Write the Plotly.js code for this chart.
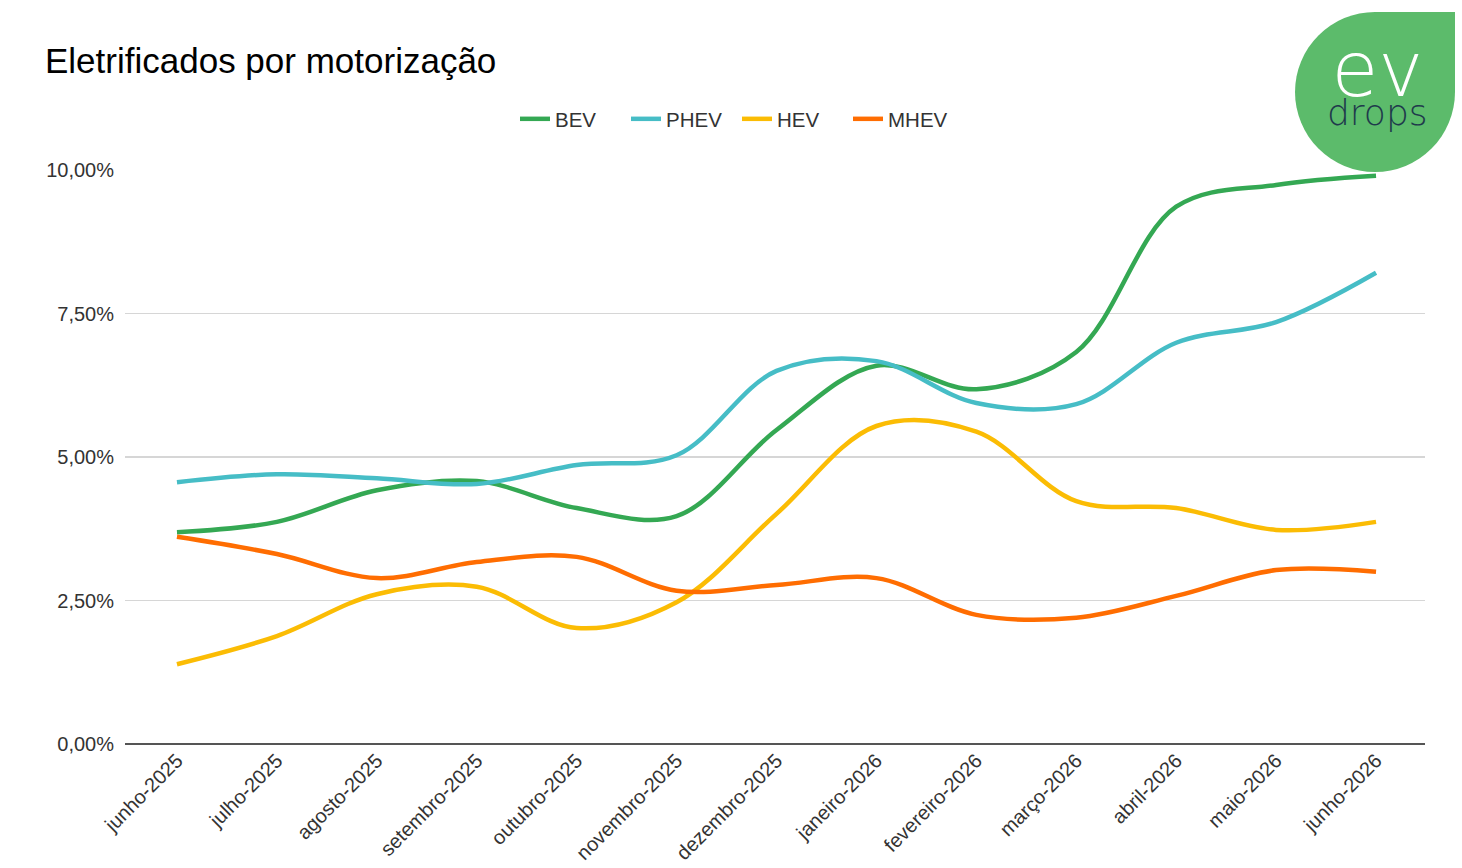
<!DOCTYPE html>
<html>
<head>
<meta charset="utf-8">
<script src="https://cdn.plot.ly/plotly-3.0.1.min.js"></script>
<style>html,body{margin:0;padding:0;background:#fff;}#chart{width:1462px;height:868px;}</style>
</head>
<body>
<div id="chart"></div>
<script>
const months = ["junho-2025","julho-2025","agosto-2025","setembro-2025","outubro-2025","novembro-2025","dezembro-2025","janeiro-2026","fevereiro-2026","março-2026","abril-2026","maio-2026","junho-2026"];
const bev  = [3.69, 3.87, 4.42, 4.58, 4.11, 3.97, 5.47, 6.59, 6.18, 6.83, 9.36, 9.74, 9.90];
const phev = [4.56, 4.70, 4.63, 4.53, 4.86, 5.03, 6.50, 6.67, 5.94, 5.92, 6.99, 7.35, 8.21];
const hev  = [1.39, 1.88, 2.61, 2.74, 2.02, 2.47, 4.01, 5.54, 5.44, 4.23, 4.11, 3.73, 3.87];
const mhev = [3.61, 3.31, 2.89, 3.17, 3.26, 2.67, 2.77, 2.89, 2.25, 2.20, 2.58, 3.03, 3.00];
const yTicks = [0, 2.5, 5, 7.5, 10];
const yTickLabels = ["0,00%", "2,50%", "5,00%", "7,50%", "10,00%"];

const seriesNames = ["BEV","PHEV","HEV","MHEV"];
const seriesData = [bev, phev, hev, mhev];
const colors = ["#34a853","#46bdc6","#fbbc04","#ff6d01"];

const traces = seriesNames.map((n,i)=>({
  x: months, y: seriesData[i], name: n, type: 'scatter', mode: 'lines',
  line: {color: colors[i], width: 4.5, shape: 'spline', smoothing: 1},
  hoverinfo: 'skip'
}));

const L = 125, R = 37, T = 170, B = 124;
const W = 1462, H = 868;
const pw = W - L - R, ph = H - T - B;
const px = v => (v - L) / pw;
const py = v => (H - B - v) / ph;
const logoColor = "#5cbb6b";
const FONT = 'Liberation Sans, Arial, sans-serif';
const LOGO_FONT = 'DejaVu Sans, sans-serif';

const layout = {
  width: W, height: H,
  margin: {l: L, r: R, t: T, b: B},
  paper_bgcolor: '#fff', plot_bgcolor: '#fff',
  font: {family: FONT, color: '#333'},
  title: {text: 'Eletrificados por motorização', x: 45/W, xref: 'container', xanchor: 'left',
          y: 1 - 61/H, yref: 'container', yanchor: 'middle',
          font: {size: 35, color: '#000', family: FONT}},
  showlegend: true,
  legend: {orientation: 'h', x: px(737), xanchor: 'center', y: py(119), yanchor: 'middle',
           font: {size: 20.5, color: '#333', family: FONT}, itemwidth: 30, traceorder: 'normal',
           entrywidth: 66, entrywidthmode: 'pixels'},
  xaxis: {type: 'category', range: [-0.52, 12.49], tickangle: -45,
          tickfont: {size: 20, color: '#333'}, showgrid: false, zeroline: false,
          showline: false, ticks: ''},
  yaxis: {range: [0, 10], tickvals: yTicks, ticktext: yTickLabels,
          tickfont: {size: 20, color: '#333'}, gridcolor: '#d6d6d6', gridwidth: 1.3,
          zeroline: true, zerolinecolor: '#555', zerolinewidth: 2, showline: false,
          ticks: '', ticklabelstandoff: 10},
  shapes: [
    {type: 'circle', xref: 'paper', yref: 'paper', x0: px(1295), x1: px(1455), y0: py(172), y1: py(12),
     fillcolor: logoColor, line: {width: 0}, layer: 'above'},
    {type: 'rect', xref: 'paper', yref: 'paper', x0: px(1375), x1: px(1455), y0: py(92), y1: py(12),
     fillcolor: logoColor, line: {width: 0}, layer: 'above'}
  ],
  annotations: [
    {text: '<span style="font-size:76px;color:#ffffff">ev</span><br><span style="font-size:36px;color:#1f3a4c">drops</span>',
     xref: 'paper', yref: 'paper', x: px(1377), y: py(79), xanchor: 'center', yanchor: 'middle',
     showarrow: false, borderpad: 0, align: 'center',
     font: {size: 22, color: '#fff', family: LOGO_FONT, weight: 200}}
  ]
};

Plotly.newPlot('chart', traces, layout, {displayModeBar: false, staticPlot: true});
</script>
</body>
</html>
